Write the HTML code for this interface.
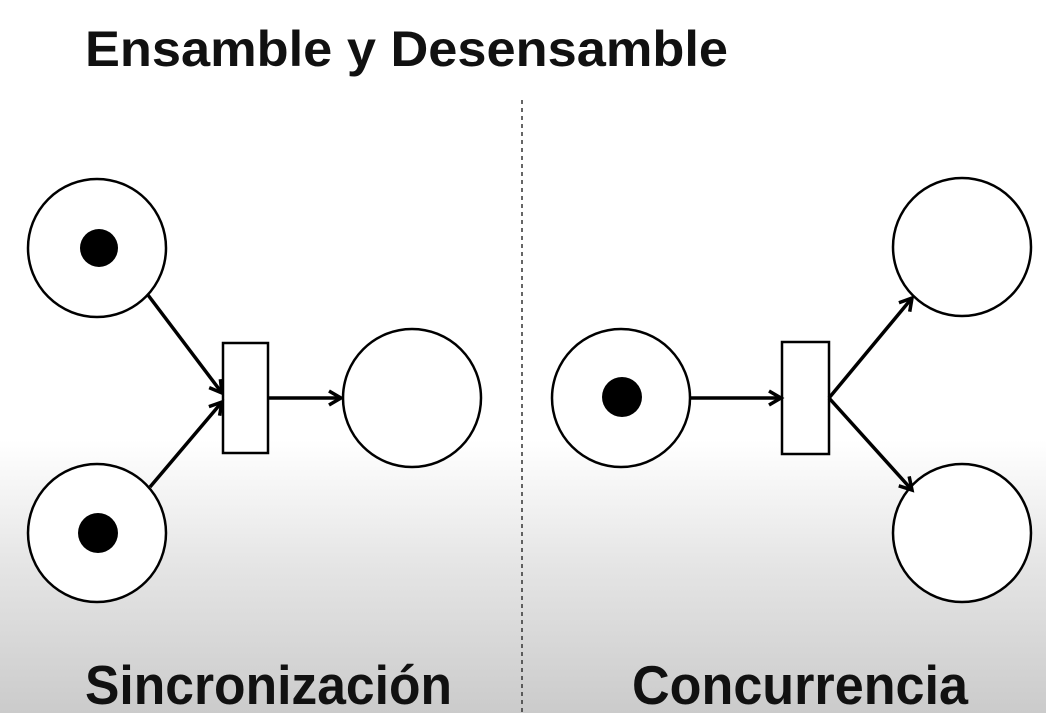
<!DOCTYPE html>
<html><head><meta charset="utf-8"><style>
html,body{margin:0;padding:0;}
body{width:1046px;height:713px;overflow:hidden;background:linear-gradient(to bottom,#fff 0px,#fff 440px,#e6e6e6 560px,#cbcbcb 713px);}
svg{display:block;}
</style></head><body>
<svg width="1046" height="713" viewBox="0 0 1046 713" xmlns="http://www.w3.org/2000/svg">
<defs>
<marker id="a" markerWidth="20" markerHeight="20" refX="15" refY="10" orient="auto" markerUnits="userSpaceOnUse">
<path d="M3,3 L15,10 L3,17" fill="none" stroke="#000" stroke-width="3.5"/>
</marker>
</defs>
<g font-family="'Liberation Sans',sans-serif" font-weight="bold" fill="#111">
<text x="85" y="66" font-size="50" textLength="643" lengthAdjust="spacingAndGlyphs">Ensamble y Desensamble</text>
<text x="85" y="704" font-size="55" textLength="367" lengthAdjust="spacingAndGlyphs">Sincronización</text>
<text x="632" y="704" font-size="55" textLength="336" lengthAdjust="spacingAndGlyphs">Concurrencia</text>
</g>
<line x1="522" y1="100" x2="522" y2="713" stroke="#333" stroke-width="1.5" stroke-dasharray="4,4"/>
<g stroke="#000" stroke-width="2.5" fill="#fff">
<circle cx="97" cy="248" r="69"/>
<circle cx="97" cy="533" r="69"/>
<circle cx="412" cy="398" r="69"/>
<rect x="223" y="343" width="45" height="110"/>
<circle cx="621" cy="398" r="69"/>
<rect x="782" y="342" width="47" height="112"/>
<circle cx="962" cy="247" r="69"/>
<circle cx="962" cy="533" r="69"/>
</g>
<g fill="#000">
<circle cx="99" cy="248" r="19"/>
<circle cx="98" cy="533" r="20"/>
<circle cx="622" cy="397" r="20"/>
</g>
<g stroke="#000" stroke-width="3.5" fill="none" marker-end="url(#a)">
<line x1="148" y1="295" x2="222" y2="393"/>
<line x1="150" y1="487" x2="222" y2="402"/>
<line x1="268" y1="398" x2="341" y2="398"/>
<line x1="690" y1="398" x2="781" y2="398"/>
<line x1="829" y1="398" x2="912" y2="298"/>
<line x1="829" y1="398" x2="912" y2="490"/>
</g>
</svg>
</body></html>
